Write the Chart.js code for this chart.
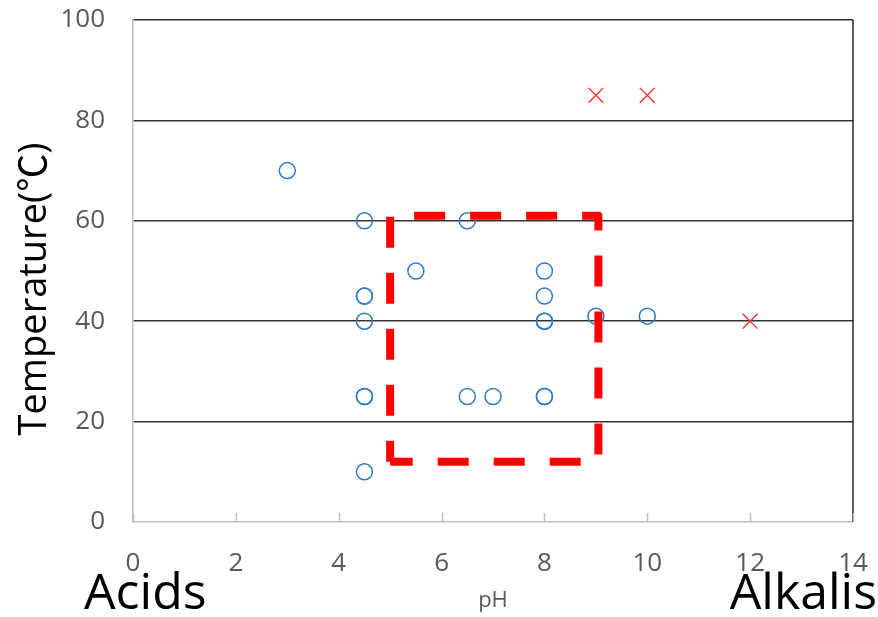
<!DOCTYPE html>
<html>
<head>
<meta charset="utf-8">
<script src="https://cdn.jsdelivr.net/npm/chart.js@4.4.0/dist/chart.umd.min.js"></script>
<style>
    body { margin: 0; background: #ffffff; }
    #phChart { display: block; width: 878px; height: 617px; }
</style>
</head>
<body>
<canvas id="phChart" width="878" height="617"></canvas>
<script>
// measured samples (circles) and failed runs (crosses)
const phOk = [3, 4.5, 4.5, 4.5, 4.5, 4.5, 4.5, 4.5, 5.5, 6.5, 6.5, 7, 8, 8, 8, 8, 8, 8, 9, 10];
const tempOk = [70, 60, 45, 45, 40, 25, 25, 10, 50, 60, 25, 25, 50, 45, 40, 40, 25, 25, 41, 41];
const phBad = [9, 10, 12];
const tempBad = [85, 85, 40];

// dashed window, drawn from bottom-left going clockwise
const boxPh = [5, 5, 9.05, 9.05, 5];
const boxTemp = [12, 61, 61, 12, 12];

const phTicks = [0, 2, 4, 6, 8, 10, 12, 14];
const tempTicks = [0, 20, 40, 60, 80, 100];

const tickFont = { family: "'Open Sans', sans-serif", size: 26 };

function toPoints(xs, ys) {
    return xs.map((x, i) => ({ x: x, y: ys[i] }));
}

// keep the plot box where the layout padding puts it
function noScalePadding(scale) {
    scale.paddingTop = 0;
    scale.paddingBottom = 0;
    scale.paddingLeft = 0;
    scale.paddingRight = 0;
}

const extrasPlugin = {
    id: 'extras',
    afterDraw(chart) {
        const ctx = chart.ctx;
        const area = chart.chartArea;
        const xScale = chart.scales.x;
        ctx.save();

        // right frame line
        ctx.strokeStyle = '#262626';
        ctx.lineWidth = 1.5;
        ctx.beginPath();
        ctx.moveTo(area.right, area.top);
        ctx.lineTo(area.right, area.bottom);
        ctx.stroke();

        // tick marks point up into the plot
        ctx.strokeStyle = '#bfbfbf';
        ctx.lineWidth = 1.5;
        phTicks.forEach(v => {
            const px = Math.round(xScale.getPixelForValue(v)) + 0.5;
            ctx.beginPath();
            ctx.moveTo(px, area.bottom);
            ctx.lineTo(px, area.bottom - 9);
            ctx.stroke();
        });

        // axis titles and end labels
        ctx.fillStyle = '#000000';
        ctx.font = "38px 'Open Sans', 'Noto Sans CJK JP', sans-serif";
        ctx.textAlign = 'center';
        ctx.textBaseline = 'alphabetic';
        ctx.save();
        ctx.translate(46, 289);
        ctx.rotate(-Math.PI / 2);
        ctx.fillText('Temperature(℃)', 0, 0);
        ctx.restore();

        ctx.font = "50px 'Open Sans', sans-serif";
        ctx.textAlign = 'left';
        ctx.fillText('Acids', 84, 609);
        ctx.textAlign = 'right';
        ctx.fillText('Alkalis', 877, 609);

        ctx.fillStyle = '#595959';
        ctx.font = "22px 'Open Sans', sans-serif";
        ctx.textAlign = 'center';
        ctx.fillText('pH', (area.left + area.right) / 2, 607);

        ctx.restore();
    }
};

document.addEventListener('DOMContentLoaded', function() {
    const ctx = document.getElementById('phChart').getContext('2d');

    new Chart(ctx, {
        type: 'scatter',
        data: {
            datasets: [
                {
                    label: 'window',
                    data: toPoints(boxPh, boxTemp),
                    showLine: true,
                    borderColor: '#ff0000',
                    borderWidth: 8,
                    borderDash: [31, 25],
                    borderDashOffset: 10,
                    borderJoinStyle: 'round',
                    borderCapStyle: 'butt',
                    pointRadius: 0,
                    fill: false,
                    tension: 0
                },
                {
                    label: 'ok',
                    data: toPoints(phOk, tempOk),
                    pointStyle: 'circle',
                    pointRadius: 8,
                    borderWidth: 1.5,
                    borderColor: '#2e7bc4',
                    backgroundColor: 'rgba(0,0,0,0)'
                },
                {
                    label: 'bad',
                    data: toPoints(phBad, tempBad),
                    pointStyle: 'crossRot',
                    pointRadius: 10.5,
                    borderWidth: 1.4,
                    borderColor: '#ff2a2a'
                }
            ]
        },
        options: {
            responsive: false,
            animation: false,
            events: [],
            layout: { autoPadding: false, padding: { left: 0, right: 25, top: 20, bottom: 0 } },
            plugins: {
                legend: { display: false },
                tooltip: { enabled: false }
            },
            scales: {
                x: {
                    type: 'linear',
                    min: 0,
                    max: 14,
                    afterFit: scale => { scale.height = 95; noScalePadding(scale); },
                    afterBuildTicks: scale => { scale.ticks = phTicks.map(v => ({ value: v })); },
                    grid: { display: false, drawTicks: false },
                    border: { display: true, color: '#bfbfbf', width: 1.5 },
                    ticks: { color: '#595959', font: tickFont, padding: 26, maxRotation: 0 }
                },
                y: {
                    type: 'linear',
                    min: 0,
                    max: 100,
                    afterFit: scale => { scale.width = 133; noScalePadding(scale); },
                    afterBuildTicks: scale => { scale.ticks = tempTicks.map(v => ({ value: v })); },
                    grid: {
                        drawTicks: false,
                        lineWidth: 1.5,
                        color: c => c.tick && c.tick.value === 0 ? 'rgba(0,0,0,0)' : '#333333'
                    },
                    border: { display: true, color: '#bfbfbf', width: 1.5 },
                    ticks: { color: '#595959', font: tickFont, padding: 28 }
                }
            }
        },
        plugins: [extrasPlugin]
    });
});
</script>
</body>
</html>
